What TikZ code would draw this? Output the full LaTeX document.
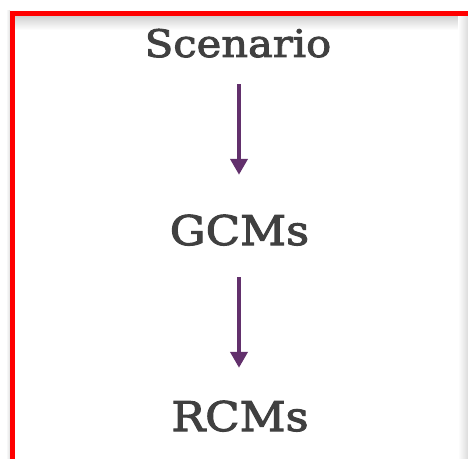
\documentclass[tikz,border=0pt]{standalone}
\usepackage{fontspec}
\usepackage{tikz}
\usetikzlibrary{arrows.meta}
\newfontfamily\slabfont[FakeStretch=1.1,FakeBold=2.5]{DejaVu Serif}
\definecolor{labelgray}{HTML}{404040}
\definecolor{flowpurple}{HTML}{62306C}

\begin{document}
\begin{tikzpicture}[
                x=1bp,y=-1bp,
                label/.style={
                    text=labelgray,
                    inner sep=0pt,
                    text height=30bp,
                    text depth=0pt,
                    anchor=base
                },
                flow/.style={
                    flowpurple,
                    line width=4.5bp,
                    -{Triangle[length=16bp,width=17bp]}
                }
            ]
                \useasboundingbox (0,0) rectangle (468,459);
                \shade[top color=black!18,bottom color=white] (15,16) rectangle (468,30);
                \shade[left color=white,right color=black!14] (458,16) rectangle (468,459);
                \shade[left color=white,right color=black!12] (6,11) rectangle (10,459);
                \draw[red,line width=5bp] (475,13.5) -- (12.5,13.5) -- (12.5,461) -- (475,461);
                \node[label,font=\slabfont\fontsize{38}{42}\selectfont] (scenario) at (238,57) {Scenario};
                \node[label,font=\slabfont\fontsize{41}{44}\selectfont] (gcms) at (239.5,245) {GCMs};
                \node[label,font=\slabfont\fontsize{41}{44}\selectfont] (rcms) at (240,431) {RCMs};
                \draw[flow,shorten <=27bp,shorten >=40bp] (scenario.south -| 239,0) -- (gcms.north -| 239,0);
                \draw[flow,shorten <=32bp,shorten >=33bp] (gcms.south -| 239,0) -- (rcms.north -| 239,0);
            \end{tikzpicture}
\end{document}
